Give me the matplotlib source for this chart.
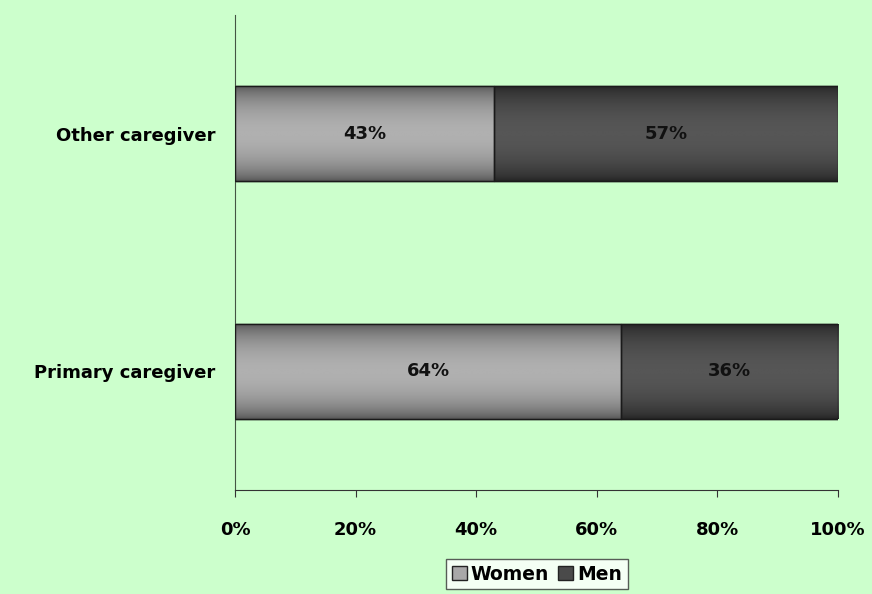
import numpy as np
import matplotlib.pyplot as plt
from matplotlib.colors import LinearSegmentedColormap
from matplotlib.patches import Patch

categories = ["Primary caregiver", "Other caregiver"]
women = [64, 43]
men = [36, 57]
series_names = ["Women", "Men"]
xticks = [0, 20, 40, 60, 80, 100]

bg = "#CCFFCC"
plt.rcParams['font.family'] = ['DejaVu Sans']
FS = 13

fig = plt.figure(figsize=(8.72, 5.94), dpi=100, facecolor=bg)
ax = fig.add_axes([235/872, 1 - 490/594, (838-235)/872, 475/594])
ax.set_facecolor(bg)

y = np.arange(len(categories))
h = 0.4
b1 = ax.barh(y, women, height=h, color="#a8a8a8", edgecolor="#222222", linewidth=1, zorder=2)
b2 = ax.barh(y, men, left=women, height=h, color="#4a4a4a", edgecolor="#222222", linewidth=1, zorder=2)

# vertical shading on each bar: darker at top and bottom edges, light in the middle
t = np.linspace(0, 1, 200)
prof = np.sin(np.pi * t) ** 0.6
grad = prof[:, None]
cm_w = LinearSegmentedColormap.from_list("w", ["#505050", "#b0b0b0"])
cm_m = LinearSegmentedColormap.from_list("m", ["#222222", "#565656"])
for bars, cm in ((b1, cm_w), (b2, cm_m)):
    for r in bars:
        x0, y0 = r.get_x(), r.get_y()
        im = ax.imshow(grad, cmap=cm, aspect="auto", zorder=2.5,
                       extent=(x0, x0 + r.get_width(), y0, y0 + r.get_height()),
                       interpolation="bilinear")
        im.set_clip_path(r)
        edge = plt.Rectangle((x0, y0), r.get_width(), r.get_height(), fill=False,
                             edgecolor="#1a1a1a", linewidth=1, zorder=3)
        ax.add_patch(edge)

for bars, vals in ((b1, women), (b2, men)):
    for r, v in zip(bars, vals):
        ax.text(r.get_x() + r.get_width() / 2, r.get_y() + r.get_height() / 2,
                f"{v}%", ha="center", va="center", fontsize=FS, fontweight="bold",
                color="#111111", zorder=4)

ax.set_xlim(0, 100)
ax.set_ylim(-0.5, 1.5)
ax.set_xticks(xticks)
ax.set_xticklabels([f"{v}%" for v in xticks], fontsize=FS, fontweight="bold")
ax.set_yticks(y)
ax.set_yticklabels(categories, fontsize=FS, fontweight="bold")
ax.tick_params(axis="y", length=0, pad=14)
ax.tick_params(axis="x", direction="out", length=5, pad=17, color="#333333")
for s in ("top", "right"):
    ax.spines[s].set_visible(False)
ax.spines["left"].set_color("#445544")
ax.spines["bottom"].set_color("#333333")

handles = [Patch(facecolor="#a8a8a8", edgecolor="#222222"),
           Patch(facecolor="#4a4a4a", edgecolor="#222222")]
leg = fig.legend(handles, series_names, loc="center", bbox_to_anchor=(537/872, 1 - 574/594),
                 ncol=2, frameon=True, fancybox=False, edgecolor="#333333",
                 prop={"size": 13.5, "weight": "bold"}, handlelength=0.8, handleheight=0.8,
                 handletextpad=0.2, columnspacing=0.5, borderpad=0.3, borderaxespad=0)
leg.get_frame().set_facecolor("white")
leg.get_frame().set_linewidth(1)

fig.savefig("out.png", dpi=100, facecolor=bg)
